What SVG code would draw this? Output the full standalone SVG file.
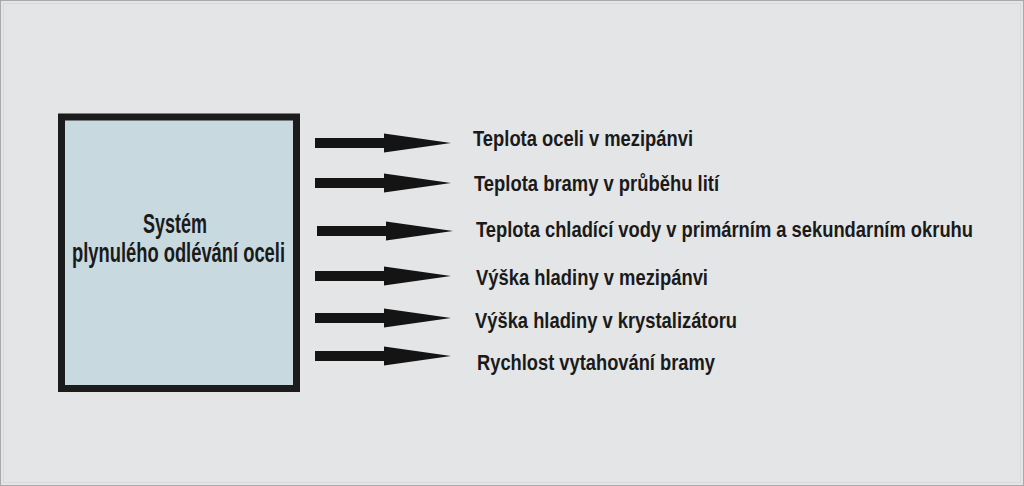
<svg xmlns="http://www.w3.org/2000/svg" width="1024" height="486" viewBox="0 0 1024 486">
<defs>
<style>
.lbl{font-family:"Liberation Sans",Arial,sans-serif;font-weight:bold;font-size:22px;fill:#1a1a1a}
.ttl{font-family:"Liberation Sans",Arial,sans-serif;font-weight:bold;font-size:28px;fill:#1a1a1a}
.shaft{stroke:#141414;stroke-width:10;fill:none}
</style>
<marker id="ah" markerUnits="userSpaceOnUse" markerWidth="70" markerHeight="22" refX="0" refY="10" orient="auto" viewBox="0 0 70 22">
<path d="M0,0.5 L67,10 L0,19.5 Z" fill="#141414"/>
</marker>
</defs>
<rect x="0" y="0" width="1024" height="486" fill="#e4e5e7"/>
<rect x="0.5" y="0.5" width="1023" height="485" fill="none" stroke="#a9a9ab" stroke-width="1"/>
<rect x="3.5" y="3.5" width="1017" height="479" fill="none" stroke="#d8d9db" stroke-width="1"/>
<g id="node-system">
<rect x="61.5" y="117" width="235" height="271.5" fill="#c9d9e0" stroke="#1c1c1c" stroke-width="7"/>
<text class="ttl" transform="translate(143,233) scale(0.65,1)" x="0" y="0" textLength="98.5" lengthAdjust="spacingAndGlyphs">Systém</text>
<text class="ttl" transform="translate(72,262) scale(0.65,1)" x="0" y="0" textLength="327.7" lengthAdjust="spacingAndGlyphs">plynulého odlévání oceli</text>
</g>
<g id="connectors">
<line class="shaft" x1="315" y1="143" x2="384" y2="143" marker-end="url(#ah)"/>
<line class="shaft" x1="315" y1="183" x2="384" y2="183" marker-end="url(#ah)"/>
<line class="shaft" x1="317" y1="231" x2="386" y2="231" marker-end="url(#ah)"/>
<line class="shaft" x1="315" y1="276" x2="384" y2="276" marker-end="url(#ah)"/>
<line class="shaft" x1="315" y1="318" x2="384" y2="318" marker-end="url(#ah)"/>
<line class="shaft" x1="315" y1="356" x2="384" y2="356" marker-end="url(#ah)"/>
</g>
<g id="node-out1"><text class="lbl" transform="translate(473,146) scale(0.83,1)" x="0" y="0" textLength="265.1" lengthAdjust="spacingAndGlyphs">Teplota oceli v mezipánvi</text></g>
<g id="node-out2"><text class="lbl" transform="translate(474,191) scale(0.83,1)" x="0" y="0" textLength="295.2" lengthAdjust="spacingAndGlyphs">Teplota bramy v průběhu lití</text></g>
<g id="node-out3"><text class="lbl" transform="translate(476,237) scale(0.83,1)" x="0" y="0" textLength="598.8" lengthAdjust="spacingAndGlyphs">Teplota chladící vody v primárním a sekundarním okruhu</text></g>
<g id="node-out4"><text class="lbl" transform="translate(476,285) scale(0.83,1)" x="0" y="0" textLength="279.5" lengthAdjust="spacingAndGlyphs">Výška hladiny v mezipánvi</text></g>
<g id="node-out5"><text class="lbl" transform="translate(475,328) scale(0.83,1)" x="0" y="0" textLength="315.7" lengthAdjust="spacingAndGlyphs">Výška hladiny v krystalizátoru</text></g>
<g id="node-out6"><text class="lbl" transform="translate(477,370) scale(0.83,1)" x="0" y="0" textLength="286.7" lengthAdjust="spacingAndGlyphs">Rychlost vytahování bramy</text></g>
</svg>
